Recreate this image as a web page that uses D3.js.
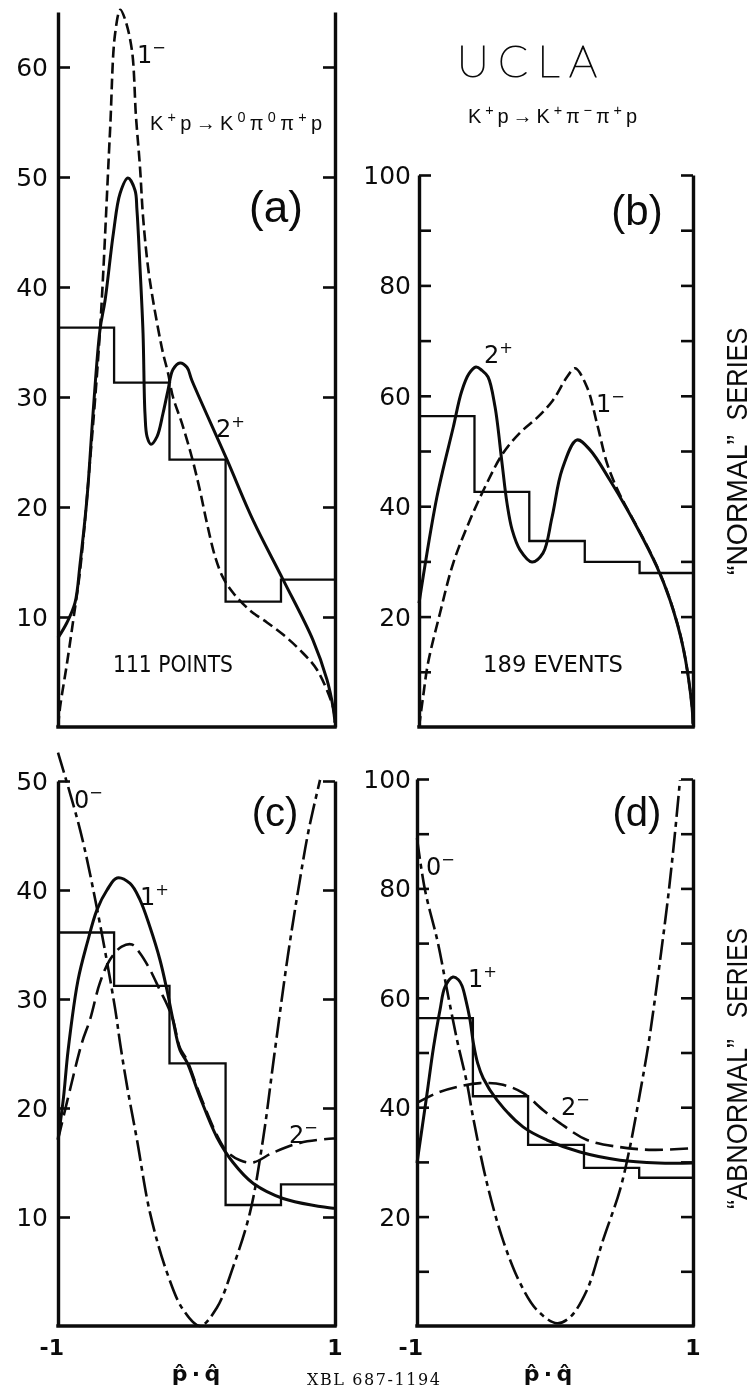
<!DOCTYPE html>
<html>
<head>
<meta charset="utf-8">
<script src="https://cdn.jsdelivr.net/npm/d3@7"></script>
<style>
  html, body { margin: 0; padding: 0; background: #fff; }
  svg { display: block; filter: grayscale(1); }
</style>
</head>
<body>
<svg id="fig" width="754" height="1393"></svg>
<script>
// ---------------- data ----------------
// histogram bin edges in p̂·q̂ (shared by all four panels)
const binEdges = [-1, -0.595, -0.195, 0.21, 0.61, 1];

// event histograms
const histA = [36.3, 31.3, 24.3, 11.4, 13.4];   // K+p -> K0 pi0 pi+ p  ("normal")
const histB = [56.3, 42.6, 33.7, 29.9, 27.9];   // K+p -> K+ pi- pi+ p  ("normal")
const histC = [36.1, 31.2, 24.1, 11.1, 13.0];   // K+p -> K0 pi0 pi+ p  ("abnormal")
const histD = [56.3, 42.0, 33.1, 28.9, 27.1];   // K+p -> K+ pi- pi+ p  ("abnormal")

// y-axis ticks and labelled values
const ticksA = [10, 20, 30, 40, 50, 60];
const labelsA = [10, 20, 30, 40, 50, 60];
const ticksB = [10, 20, 30, 40, 50, 60, 70, 80, 90, 100];
const labelsB = [20, 40, 60, 80, 100];
const ticksC = [10, 20, 30, 40, 50];
const labelsC = [10, 20, 30, 40, 50];
const ticksD = [10, 20, 30, 40, 50, 60, 70, 80, 90, 100];
const labelsD = [20, 40, 60, 80, 100];
const xTickLabels = [[-1, "-1"], [1, "1"]];

// predicted distributions, [p̂·q̂, events]
const a2plus = [[-1, 8.1], [-0.935, 9.5], [-0.877, 11.3], [-0.84, 14.9], [-0.79, 20.9], [-0.747, 28.5],
  [-0.697, 36.1], [-0.66, 38.8], [-0.6, 44.9], [-0.552, 48.5], [-0.495, 49.9], [-0.444, 48.8],
  [-0.43, 47], [-0.408, 41.8], [-0.386, 35.8], [-0.372, 28.5], [-0.357, 26.4], [-0.329, 25.7],
  [-0.285, 26.4], [-0.242, 28.5], [-0.206, 30.6], [-0.17, 32.5], [-0.119, 33.1], [-0.069, 32.7],
  [-0.033, 31.5], [0.22, 24.3], [0.408, 18.8], [0.625, 13.4], [0.841, 7.9], [0.942, 4.3],
  [0.986, 1.8], [1, 0.4]];
const a1minus = [[-1, 0], [-0.985, 1.8], [-0.935, 5.8], [-0.89, 9.7], [-0.84, 14.3], [-0.77, 24],
  [-0.697, 36], [-0.625, 54], [-0.588, 63], [-0.55, 65.2], [-0.515, 64.3], [-0.466, 61.5],
  [-0.437, 55.5], [-0.408, 50.9], [-0.386, 46.4], [-0.35, 41.8], [-0.314, 38.8], [-0.271, 35.8],
  [-0.242, 34], [-0.206, 32.2], [-0.17, 30], [-0.105, 27.6], [-0.033, 24.5], [0.025, 21.5],
  [0.076, 18.5], [0.134, 15.5], [0.191, 13.6], [0.264, 12.2], [0.386, 10.6], [0.509, 9.5],
  [0.625, 8.4], [0.747, 7], [0.87, 5.2], [0.986, 1.8], [1, 0.4]];

const b2plus = [[-1, 22.4], [-0.869, 41.7], [-0.75, 54.3], [-0.69, 60.7], [-0.635, 64],
  [-0.584, 65.2], [-0.54, 64.6], [-0.496, 63.4], [-0.445, 58], [-0.394, 47.8], [-0.358, 40.6],
  [-0.32, 35.7], [-0.263, 32.1], [-0.175, 29.9], [-0.095, 31.5], [-0.029, 38], [0.044, 46.6],
  [0.153, 52], [0.248, 50.2], [0.394, 44.7], [0.591, 36.2], [0.737, 29], [0.832, 23],
  [0.927, 14.5], [0.993, 3.6], [1, 0.5]];
const b1minus = [[-1, 0], [-0.97, 5.5], [-0.934, 11.6], [-0.847, 20.6], [-0.75, 29.7],
  [-0.628, 37.5], [-0.504, 44.2], [-0.387, 49.6], [-0.263, 53.3], [-0.139, 56], [-0.022, 59.2],
  [0.08, 63.4], [0.139, 65], [0.226, 61.6], [0.299, 55], [0.372, 47.8], [0.445, 43.2],
  [0.518, 39.6], [0.591, 36.3], [0.737, 29.1], [0.832, 23.1], [0.927, 14.6], [0.993, 3.7], [1, 0.5]];

const c0minus = [[-1, 52.6], [-0.84, 45.5], [-0.72, 38.4], [-0.59, 29.3], [-0.55, 25.8],
  [-0.5, 21.9], [-0.43, 17.1], [-0.336, 10.4], [-0.213, 4.9], [-0.097, 1.5], [0.025, 0],
  [0.148, 1.7], [0.264, 5.4], [0.386, 10.4], [0.48, 17.1], [0.56, 24.7], [0.66, 34],
  [0.75, 41.2], [0.81, 45.5], [0.892, 50.1]];
const c1plus = [[-1, 17.1], [-0.96, 21], [-0.927, 25.3], [-0.856, 31.7], [-0.79, 35.1],
  [-0.718, 38.2], [-0.646, 40], [-0.574, 41.1], [-0.48, 40.6], [-0.408, 39.1], [-0.336, 36.6],
  [-0.264, 33.6], [-0.213, 30.8], [-0.17, 28.1], [-0.119, 25.3], [-0.069, 24.2], [0.025, 21],
  [0.148, 17.3], [0.264, 15], [0.408, 13.1], [0.625, 11.7], [0.986, 10.8], [1, 10.8]];
const c2minus = [[-1, 17.1], [-0.913, 21.7], [-0.827, 26], [-0.769, 28.1], [-0.697, 31.5],
  [-0.625, 33.6], [-0.54, 34.8], [-0.466, 35], [-0.408, 34.2], [-0.336, 32.7], [-0.264, 30.8],
  [-0.213, 29.5], [-0.17, 28.1], [-0.119, 25.5], [-0.069, 24.4], [0.025, 21.2], [0.148, 17.5],
  [0.22, 16], [0.314, 15.2], [0.408, 15], [0.552, 15.9], [0.747, 16.8], [0.986, 17.2], [1, 17.2]];

const d0minus = [[-1, 89.2], [-0.942, 79.7], [-0.848, 70], [-0.783, 61.5], [-0.71, 52.3],
  [-0.638, 44.4], [-0.594, 38.2], [-0.493, 26.1], [-0.377, 15.7], [-0.254, 7.9], [-0.13, 2.9],
  [0.014, 0.5], [0.109, 1.6], [0.232, 6.6], [0.348, 15.7], [0.471, 24.9], [0.543, 32.7],
  [0.616, 42.6], [0.674, 51], [0.72, 59], [0.77, 68.5], [0.82, 78.5], [0.865, 89], [0.906, 99.8]];
const d1plus = [[-1, 29.8], [-0.93, 42], [-0.88, 51], [-0.833, 57.8], [-0.797, 62],
  [-0.739, 63.8], [-0.7, 63.3], [-0.674, 62.2], [-0.645, 59.5], [-0.616, 56], [-0.59, 51.5],
  [-0.56, 48], [-0.52, 45.3], [-0.42, 41.3], [-0.232, 36.4], [-0.058, 34], [0.181, 31.8],
  [0.471, 30.3], [0.75, 29.8], [1, 29.8]];
const d2minus = [[-1, 40.8], [-0.855, 42.6], [-0.71, 43.7], [-0.543, 44.4], [-0.377, 44.1],
  [-0.232, 42.6], [-0.087, 39.5], [0.036, 37.1], [0.232, 34], [0.471, 32.7], [0.71, 32.2],
  [1, 32.5]];

// ---------------- drawing ----------------
const INK = "#0b0b0b";
const svg = d3.select("#fig");
svg.append("rect").attr("width", 754).attr("height", 1393).attr("fill", "#fff");

const STYLES = {
  solid:   { w: 3.0, dash: null },
  dash:    { w: 2.6, dash: "11,5" },
  longdash:{ w: 2.6, dash: "18,7" },
  dashdot: { w: 2.6, dash: "21,5,5,5" }
};

const panels = [
  { px: [58, 335], py: [727, 12], ymax: 65, hist: histA, ticks: ticksA, labels: labelsA,
    labelEnd: 48, xLabels: false,
    curves: [[a1minus, "dash"], [a2plus, "solid"]] },
  { px: [419, 693], py: [727, 175], ymax: 100, hist: histB, ticks: ticksB, labels: labelsB,
    labelEnd: 411, xLabels: false,
    curves: [[b1minus, "dash"], [b2plus, "solid"]] },
  { px: [58, 335], py: [1326, 781], ymax: 50, hist: histC, ticks: ticksC, labels: labelsC,
    labelEnd: 48, xLabels: true,
    curves: [[c0minus, "dashdot"], [c2minus, "longdash"], [c1plus, "solid"]] },
  { px: [417, 693], py: [1326, 779], ymax: 100, hist: histD, ticks: ticksD, labels: labelsD,
    labelEnd: 411, xLabels: true,
    curves: [[d0minus, "dashdot"], [d2minus, "longdash"], [d1plus, "solid"]] }
];

panels.forEach(p => {
  const x = d3.scaleLinear().domain([-1, 1]).range(p.px);
  const y = d3.scaleLinear().domain([0, p.ymax]).range(p.py);
  const g = svg.append("g");

  // histogram
  const steps = binEdges.slice(0, -1).map((e, i) => [e, p.hist[i]]);
  steps.push([1, p.hist[p.hist.length - 1]]);
  g.append("path")
    .attr("d", d3.line().x(d => x(d[0])).y(d => y(d[1])).curve(d3.curveStepAfter)(steps))
    .attr("fill", "none").attr("stroke", INK).attr("stroke-width", 2.3);

  // curves
  const line = d3.line().x(d => x(d[0])).y(d => y(d[1])).curve(d3.curveCatmullRom.alpha(0.5));
  p.curves.forEach(([data, style]) => {
    const s = STYLES[style];
    g.append("path").attr("d", line(data))
      .attr("fill", "none").attr("stroke", INK).attr("stroke-width", s.w)
      .attr("stroke-linecap", "butt").attr("stroke-linejoin", "round")
      .attr("stroke-dasharray", s.dash);
  });

  // left and right axes with inward ticks
  const left = g.append("g").attr("transform", `translate(${p.px[0]},0)`)
    .call(d3.axisRight(y).tickValues(p.ticks).tickSize(12).tickSizeOuter(0).tickFormat(""));
  const right = g.append("g").attr("transform", `translate(${p.px[1]},0)`)
    .call(d3.axisLeft(y).tickValues(p.ticks).tickSize(12).tickSizeOuter(0).tickFormat(""));
  [left, right].forEach(ax => {
    ax.select(".domain").attr("stroke", INK).attr("stroke-width", 3.4);
    ax.selectAll(".tick line").attr("stroke", INK).attr("stroke-width", 2.6);
  });

  // bottom axis
  g.append("line")
    .attr("x1", p.px[0]).attr("x2", p.px[1])
    .attr("y1", y(0)).attr("y2", y(0))
    .attr("stroke", INK).attr("stroke-width", 3.4).attr("stroke-linecap", "square");

  // y tick labels
  g.selectAll("text.ylab").data(p.labels).join("text")
    .attr("x", p.labelEnd).attr("y", d => y(d)).attr("dy", "0.36em")
    .attr("text-anchor", "end")
    .attr("font-family", "DejaVu Sans").attr("font-size", 25).attr("fill", INK)
    .text(d => d);

  // x tick labels
  if (p.xLabels) {
    g.selectAll("text.xlab").data(xTickLabels).join("text")
      .attr("x", d => x(d[0]) + (d[0] < 0 ? 6 : 0)).attr("y", 1355)
      .attr("text-anchor", d => d[0] < 0 ? "end" : "middle")
      .attr("font-family", "DejaVu Sans").attr("font-weight", "bold")
      .attr("font-size", 22).attr("fill", INK)
      .text(d => d[1]);
  }
});

// ---------------- text ----------------
function label(x, y, parts, opts) {
  const o = Object.assign({ size: 24, family: "DejaVu Sans", anchor: "start", supScale: 0.68 }, opts || {});
  const t = svg.append("text").attr("x", x).attr("y", y)
    .attr("font-family", o.family).attr("font-size", o.size)
    .attr("text-anchor", o.anchor).attr("fill", INK);
  if (o.length) t.attr("textLength", o.length).attr("lengthAdjust", o.adjust || "spacingAndGlyphs");
  if (o.weight) t.attr("font-weight", o.weight);
  let up = false;
  const rise = o.size * 0.42;
  parts.forEach(([txt, sup]) => {
    const s = t.append("tspan").text(txt);
    if (sup && !up) { s.attr("dy", -rise); up = true; }
    else if (!sup && up) { s.attr("dy", rise); up = false; }
    if (sup) s.attr("font-size", o.size * o.supScale);
  });
  return t;
}

// curve labels
label(137, 63, [["1"], ["\u2212", true]]);
label(216, 437, [["2"], ["+", true]]);
label(484, 363, [["2"], ["+", true]]);
label(596, 412, [["1"], ["\u2212", true]]);
label(74, 808, [["0"], ["\u2212", true]]);
label(140, 905, [["1"], ["+", true]]);
label(289, 1143, [["2"], ["\u2212", true]]);
label(426, 875, [["0"], ["\u2212", true]]);
label(468, 987, [["1"], ["+", true]]);
label(561, 1115, [["2"], ["\u2212", true]]);

// panel letters
[["(a)", 276, 222, 44], ["(b)", 637, 225, 42], ["(c)", 275, 826, 40], ["(d)", 637, 826, 40]].forEach(([s, x, y, fs]) => {
  svg.append("text").attr("x", x).attr("y", y).attr("text-anchor", "middle")
    .attr("font-family", "Liberation Sans").attr("font-size", fs).attr("fill", INK).text(s);
});

// reactions
label(150, 130, [["K"], ["+", true], ["p\u2192K"], ["0", true], ["\u03C0"], ["0", true], ["\u03C0"], ["+", true], ["p"]],
  { size: 20, family: "Liberation Sans", length: 172, adjust: "spacing", supScale: 0.72 });
label(468, 123, [["K"], ["+", true], ["p\u2192K"], ["+", true], ["\u03C0"], ["\u2212", true], ["\u03C0"], ["+", true], ["p"]],
  { size: 20, family: "Liberation Sans", length: 169, adjust: "spacing", supScale: 0.72 });

// sample sizes
label(113, 672, [["111 POINTS"]], { size: 23, length: 120 });
label(483, 672, [["189 EVENTS"]], { size: 23, length: 140 });

// laboratory (pen-written)
svg.append("text").attr("x", 457).attr("y", 77)
  .attr("font-family", "Lato, DejaVu Sans").attr("font-weight", 100)
  .attr("font-size", 44).attr("textLength", 140).attr("lengthAdjust", "spacing")
  .attr("fill", INK).attr("stroke", INK).attr("stroke-width", 1.1)
  .text("UCLA");

// series labels (rotated)
function vlabel(txt, cy, len) {
  svg.append("text")
    .attr("transform", `translate(747,${cy}) rotate(-90)`)
    .attr("text-anchor", "middle")
    .attr("font-family", "Liberation Sans").attr("font-size", 30)
    .attr("textLength", len).attr("lengthAdjust", "spacingAndGlyphs")
    .attr("fill", INK).text(txt);
}
vlabel("\u201CNORMAL\u201D", 505, 140);
vlabel("SERIES", 374, 93);
vlabel("\u201CABNORMAL\u201D", 1124, 170);
vlabel("SERIES", 973, 90);

// x-axis titles  p̂ · q̂
[196, 548].forEach(cx => {
  svg.append("text").attr("x", cx).attr("y", 1381).attr("text-anchor", "middle")
    .attr("font-family", "DejaVu Sans").attr("font-size", 22).attr("font-weight", "bold")
    .attr("fill", INK).text("p\u0302\u2009\u00B7\u2009q\u0302");
});

// drawing number
svg.append("text").attr("x", 307).attr("y", 1385)
  .attr("font-family", "DejaVu Serif").attr("font-size", 16)
  .attr("textLength", 133).attr("lengthAdjust", "spacing")
  .attr("fill", INK).text("XBL 687-1194");
</script>
</body>
</html>
